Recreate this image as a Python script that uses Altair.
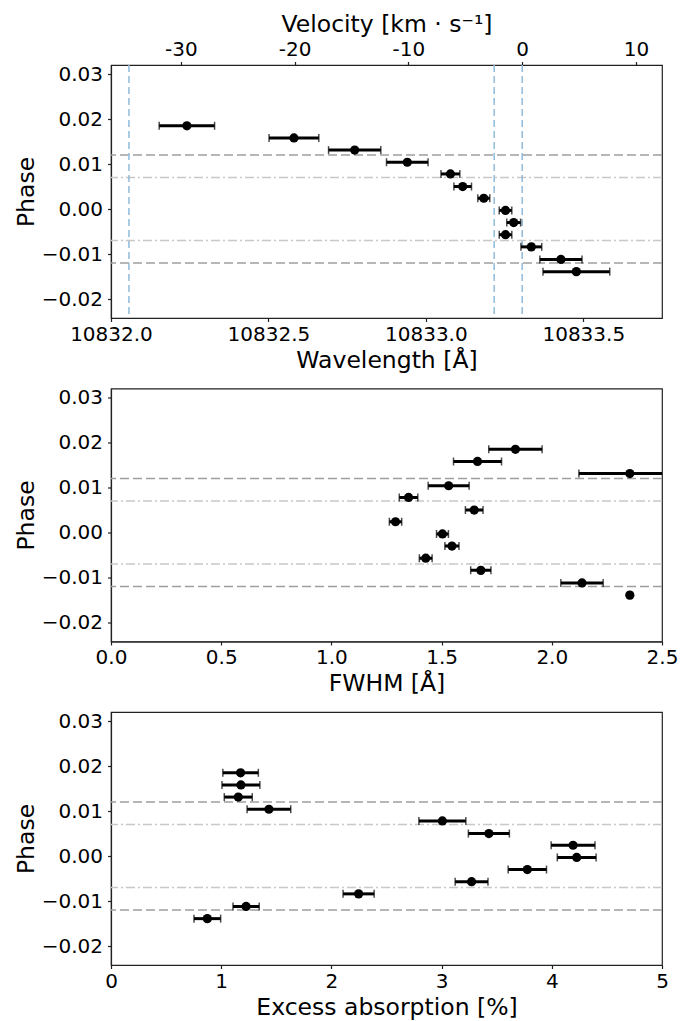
import altair as alt
import pandas as pd

# ---- data ----
phase = [0.0185, 0.0158, 0.0131, 0.0104, 0.0078, 0.0050, 0.0024,
         -0.0003, -0.0030, -0.0057, -0.0084, -0.0112, -0.0139]
wavelength = [10832.241, 10832.581, 10832.774, 10832.941, 10833.078, 10833.117, 10833.184,
              10833.253, 10833.279, 10833.253, 10833.335, 10833.429, 10833.478]
wavelength_err = [0.088, 0.079, 0.083, 0.066, 0.030, 0.028, 0.019,
                  0.020, 0.022, 0.020, 0.033, 0.067, 0.106]
fwhm = [1.835, 1.663, 2.354, 1.532, 1.350, 1.648, 1.291,
        1.504, 1.547, 1.428, 1.678, 2.137, 2.354]
fwhm_err = [0.121, 0.109, 0.231, 0.093, 0.042, 0.040, 0.028,
            0.027, 0.032, 0.029, 0.046, 0.096, 0.008]
absorption = [1.176, 1.179, 1.155, 1.433, 3.007, 3.429, 4.193,
              4.226, 3.778, 3.272, 2.247, 1.226, 0.874]
absorption_err = [0.161, 0.172, 0.127, 0.198, 0.213, 0.186, 0.199,
                  0.176, 0.174, 0.149, 0.141, 0.119, 0.121]

dashed_phase = [0.012, -0.012]
dashdot_phase = [0.007, -0.007]
he_lines = [10832.057, 10833.217, 10833.306]
lambda0 = 10833.306
c_kms = 299792.458

y_domain = [-0.0242, 0.0320]
y_ticks = [-0.02, -0.01, 0.0, 0.01, 0.02, 0.03]

wl_domain = [10832.0, 10833.75]
vel_domain = [(w - lambda0) / lambda0 * c_kms for w in wl_domain]

W, H = 551, 253
FONT = "DejaVu Sans"

y_axis = alt.Axis(values=y_ticks, format=".2f", title="Phase", labelPadding=5, titlePadding=3)
y_enc = alt.Y("phase:Q", scale=alt.Scale(domain=y_domain, nice=False, zero=False), axis=y_axis)


def hlines():
    d1 = alt.Chart(pd.DataFrame({"phase": dashed_phase})).mark_rule(
        color="#9e9e9e", strokeWidth=1.5, strokeDash=[9, 4]).encode(y=y_enc)
    d2 = alt.Chart(pd.DataFrame({"phase": dashdot_phase})).mark_rule(
        color="#c8c8c8", strokeWidth=1.5, strokeDash=[9, 3, 2, 3]).encode(y=y_enc)
    return [d1, d2]


def errpanel(xvals, xerrs, domain, ticks, fmt, title, extra=None):
    df = pd.DataFrame({"x": xvals, "err": xerrs, "phase": phase})
    df["lo"] = df["x"] - df["err"]
    df["hi"] = df["x"] + df["err"]
    scale = alt.Scale(domain=domain, nice=False, zero=False)
    axis = alt.Axis(values=ticks, format=fmt, title=title, labelPadding=2.5, titlePadding=4)
    base = alt.Chart(df)
    bars = base.mark_rule(color="black", strokeWidth=3, clip=True).encode(
        x=alt.X("lo:Q", scale=scale, axis=axis), x2="hi:Q", y=y_enc)
    cap_lo = base.mark_tick(orient="vertical", size=8, thickness=1.5, color="black", clip=True).encode(
        x=alt.X("lo:Q", scale=scale, axis=axis), y=y_enc)
    cap_hi = base.mark_tick(orient="vertical", size=8, thickness=1.5, color="black", clip=True).encode(
        x=alt.X("hi:Q", scale=scale, axis=axis), y=y_enc)
    pts = base.mark_circle(size=85, color="black", opacity=1, clip=True).encode(
        x=alt.X("x:Q", scale=scale, axis=axis), y=y_enc)
    layers = hlines()
    if extra is not None:
        layers += extra(scale, axis)
    layers += [bars, cap_lo, cap_hi, pts]
    return alt.layer(*layers)


def he_vlines(scale, axis):
    return [alt.Chart(pd.DataFrame({"x": he_lines})).mark_rule(
        color="#8fbbd9", strokeWidth=1.5, strokeDash=[7, 4]).encode(
        x=alt.X("x:Q", scale=scale, axis=axis))]


wl_layer = errpanel(wavelength, wavelength_err, wl_domain,
                    [10832.0, 10832.5, 10833.0, 10833.5], ".1f", "Wavelength [Å]", extra=he_vlines)

vel_layer = alt.Chart(pd.DataFrame({"v": vel_domain})).mark_rule(opacity=0).encode(
    x=alt.X("v:Q", scale=alt.Scale(domain=vel_domain, nice=False, zero=False),
            axis=alt.Axis(orient="top", values=[-30, -20, -10, 0, 10],
                          labelExpr="(datum.value < 0 ? '-' : '') + abs(datum.value)",
                          labelPadding=2.5, titlePadding=3,
                          title="Velocity [km · s⁻¹]")))

top = alt.layer(vel_layer, wl_layer).resolve_scale(x="independent").properties(width=W, height=H)

mid = errpanel(fwhm, fwhm_err, [0, 2.5], [0, 0.5, 1.0, 1.5, 2.0, 2.5], ".1f",
               "FWHM [Å]").properties(width=W, height=H)

bot = errpanel(absorption, absorption_err, [0, 5], [0, 1, 2, 3, 4, 5], "d",
               "Excess absorption [%]").properties(width=W, height=H)

chart = alt.vconcat(top, mid, bot, spacing=70.5, bounds="flush").configure_view(
    stroke="#222222", strokeWidth=1.2
).configure_axis(
    labelFont=FONT, titleFont=FONT, labelFontSize=20, titleFontSize=23.5,
    titleFontWeight="normal", labelColor="black", titleColor="black",
    domainColor="#222222", domainWidth=1.2, tickColor="#222222", tickSize=3.5, tickWidth=1.2,
    grid=False, labelFlush=False
).properties(padding={"left": 5, "top": 3, "right": 5, "bottom": 0})

chart.save("out.html", embed_options={"renderer": "svg", "actions": False})
